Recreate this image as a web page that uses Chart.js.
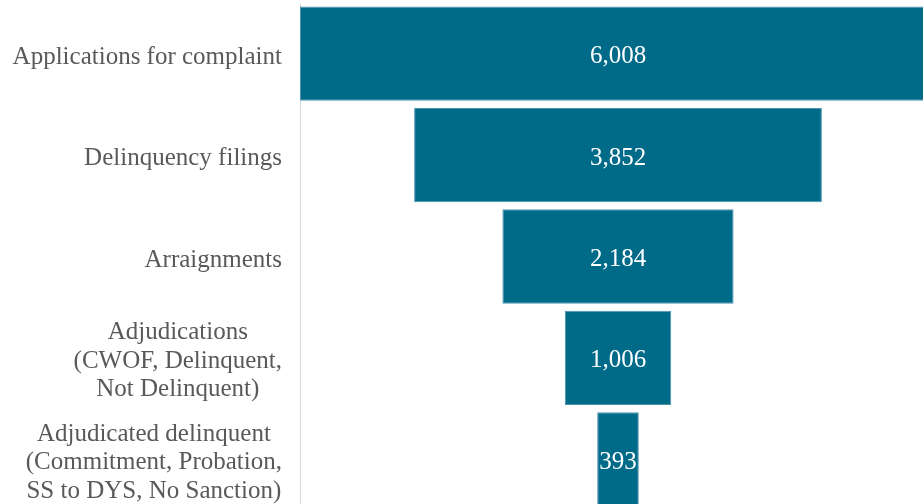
<!DOCTYPE html>
<html>
<head>
<meta charset="utf-8">
<script src="https://cdn.jsdelivr.net/npm/chart.js@4/dist/chart.umd.min.js"></script>
<style>
  html, body { margin: 0; padding: 0; background: #fff; overflow: hidden; }
  #wrap { width: 923px; height: 504px; overflow: hidden; }
</style>
</head>
<body>
<div id="wrap"><canvas id="c" width="936" height="510"></canvas></div>
<script>
// funnel stages, top to bottom
const stages = [
    ["Applications for complaint"],
    ["Delinquency filings"],
    ["Arraignments"],
    ["Adjudications", "(CWOF, Delinquent,", "Not Delinquent)"],
    ["Adjudicated delinquent", "(Commitment, Probation,", "SS to DYS, No Sanction)"],
];
const counts = [6008, 3852, 2184, 1006, 393];

const top_count = Math.max(...counts);
const label_font = "25px 'Liberation Serif'";
const text_gray = "#595959";

// centered floating bars -> funnel
const funnel_data = counts.map((v) => [(top_count - v) / 2, (top_count + v) / 2]);

// draw stage names as centered blocks, right edge near the axis
const stageLabels = {
    id: "stageLabels",
    afterDraw(chart) {
        const ctx = chart.ctx;
        const y_scale = chart.scales.y;
        ctx.save();
        ctx.font = label_font;
        ctx.fillStyle = text_gray;
        ctx.textAlign = "center";
        ctx.textBaseline = "alphabetic";
        const line_h = 28.5;
        stages.forEach((lines, i) => {
            const w = Math.max(...lines.map((l) => ctx.measureText(l).width));
            const cx = 282 - w / 2;
            const cy = y_scale.getPixelForValue(i);
            const y0 = cy + 10 - (lines.length - 1) * line_h / 2;
            lines.forEach((l, j) => ctx.fillText(l, cx, y0 + j * line_h));
        });
        ctx.restore();
    },
};

// counts in white in the middle of each bar
const valueLabels = {
    id: "valueLabels",
    afterDatasetsDraw(chart) {
        const ctx = chart.ctx;
        const meta = chart.getDatasetMeta(0);
        ctx.save();
        ctx.font = label_font;
        ctx.fillStyle = "#ffffff";
        ctx.textAlign = "center";
        ctx.textBaseline = "alphabetic";
        meta.data.forEach((bar, i) => {
            ctx.fillText(counts[i].toLocaleString("en-US"), chart.scales.x.getPixelForValue(top_count / 2), bar.y + 9.5);
        });
        ctx.restore();
    },
};

new Chart(document.getElementById("c"), {
    type: "bar",
    data: {
        labels: stages.map((s) => s.join(" ")),
        datasets: [{
            data: funnel_data,
            backgroundColor: "#006a89",
            borderColor: "#4f95ae",
            borderWidth: 1,
            borderSkipped: false,
            categoryPercentage: 1,
            barPercentage: 0.93,
        }],
    },
    options: {
        indexAxis: "y",
        responsive: false,
        animation: false,
        devicePixelRatio: 1,
        layout: { padding: { top: 3, right: 0, bottom: 0, left: 0 } },
        plugins: { legend: { display: false }, tooltip: { enabled: false } },
        scales: {
            x: { display: false, min: 0, max: top_count },
            y: {
                grid: { display: false },
                border: { display: true, color: "#d9d9d9", width: 1 },
                ticks: { display: false },
                afterFit(scale) { scale.width = 300; },
            },
        },
    },
    plugins: [stageLabels, valueLabels],
});
</script>
</body>
</html>
